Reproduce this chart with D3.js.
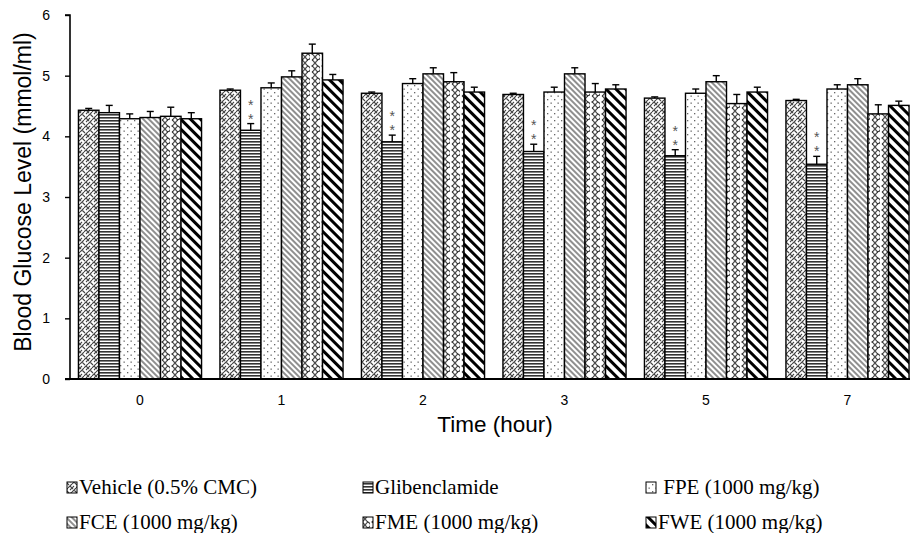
<!DOCTYPE html>
<html><head><meta charset="utf-8">
<script src="https://cdn.jsdelivr.net/npm/d3@7"></script>
<style>body{margin:0;background:#fff}svg{display:block}</style>
</head><body><svg id="c" width="910" height="533"></svg>
<script>
const categories = ["0","1","2","3","5","7"];
const series = ["Vehicle (0.5% CMC)","Glibenclamide","FPE (1000 mg/kg)","FCE (1000 mg/kg)","FME (1000 mg/kg)","FWE (1000 mg/kg)"];
const vehicle = [4.43,4.76,4.71,4.69,4.63,4.59];
const glibenclamide = [4.39,4.10,3.91,3.75,3.68,3.54];
const fpe = [4.29,4.80,4.87,4.73,4.71,4.78];
const fce = [4.31,4.98,5.03,5.03,4.90,4.85];
const fme = [4.33,5.37,4.90,4.73,4.54,4.37];
const fwe = [4.29,4.93,4.73,4.78,4.73,4.51];
const vehicleErr = [0.03,0.02,0.02,0.02,0.02,0.02];
const glibenclamideErr = [0.12,0.11,0.11,0.12,0.10,0.13];
const fpeErr = [0.08,0.08,0.08,0.08,0.07,0.07];
const fceErr = [0.10,0.10,0.10,0.10,0.10,0.10];
const fmeErr = [0.15,0.15,0.15,0.14,0.15,0.15];
const fweErr = [0.10,0.09,0.08,0.07,0.08,0.07];
const significant = [false,true,true,true,true,true]; // ** on Glibenclamide
const yTicks = [0,1,2,3,4,5,6];

const values = [vehicle,glibenclamide,fpe,fce,fme,fwe];
const errs = [vehicleErr,glibenclamideErr,fpeErr,fceErr,fmeErr,fweErr];

const svg = d3.select("#c");
const defs = svg.append("defs");
const pid = ["pVeh","pGli","pFpe","pFce","pFme","pFwe"];

// Vehicle: woven diagonal
let p = defs.append("pattern").attr("id","pVeh").attr("patternUnits","userSpaceOnUse").attr("width",8).attr("height",8);
p.append("rect").attr("width",8).attr("height",8).attr("fill","#fff");
p.append("path").attr("d","M0,4 L4,0 M4,8 L8,4 M0,8 L2,6 M6,2 L8,0 M2,2 L5,5 M6,6 L8,8 M0,0 L1,1")
  .attr("stroke","#444").attr("stroke-width",1.1).attr("fill","none");
// Glibenclamide: horizontal lines
p = defs.append("pattern").attr("id","pGli").attr("patternUnits","userSpaceOnUse").attr("width",4).attr("height",3);
p.append("rect").attr("width",4).attr("height",3).attr("fill","#fff");
p.append("rect").attr("y",0).attr("width",4).attr("height",1.6).attr("fill","#333");
// FPE: dots
p = defs.append("pattern").attr("id","pFpe").attr("patternUnits","userSpaceOnUse").attr("width",7).attr("height",7);
p.append("rect").attr("width",7).attr("height",7).attr("fill","#fff");
p.append("rect").attr("x",1).attr("y",1).attr("width",1.3).attr("height",1.3).attr("fill","#666");
p.append("rect").attr("x",4.5).attr("y",4.5).attr("width",1.3).attr("height",1.3).attr("fill","#666");
// FCE: thin backslash lines
p = defs.append("pattern").attr("id","pFce").attr("patternUnits","userSpaceOnUse").attr("width",4).attr("height",4).attr("patternTransform","rotate(-45)");
p.append("rect").attr("width",4).attr("height",4).attr("fill","#fff");
p.append("line").attr("x1",1).attr("x2",1).attr("y1",0).attr("y2",4).attr("stroke","#333").attr("stroke-width",1.1);
// FME: scalloped wave
p = defs.append("pattern").attr("id","pFme").attr("patternUnits","userSpaceOnUse").attr("width",10).attr("height",12);
p.append("rect").attr("width",10).attr("height",12).attr("fill","#fff");
p.append("path").attr("d","M2,0 Q7,3 2,6 Q7,9 2,12 M8,0 Q3,3 8,6 Q13,9 8,12 M8,6 Q3,9 8,12").attr("stroke","#333").attr("stroke-width",1.1).attr("fill","none");
// FWE: thick backslash stripes
p = defs.append("pattern").attr("id","pFwe").attr("patternUnits","userSpaceOnUse").attr("width",7).attr("height",7).attr("patternTransform","rotate(-45)");
p.append("rect").attr("width",7).attr("height",7).attr("fill","#fff");
p.append("rect").attr("x",0).attr("y",0).attr("width",3).attr("height",7).attr("fill","#000");

const x0 = 69.25, plotTop = 15, plotBottom = 379;
const x = d3.scaleBand().domain(categories).range([x0, x0 + 141.5*6]).paddingInner(0.13).paddingOuter(0.065);
const xs = d3.scaleBand().domain(d3.range(series.length)).range([0, x.bandwidth()]);
const y = d3.scaleLinear().domain([0,6]).range([plotBottom, plotTop]);

const g = svg.append("g");
categories.forEach((c,ci)=>{
  values.forEach((arr,si)=>{
    const bx = x(c) + xs(si), bw = xs.bandwidth();
    const v = arr[ci], e = errs[si][ci];
    g.append("rect").attr("x",bx).attr("y",y(v)).attr("width",bw).attr("height",y(0)-y(v))
      .attr("fill",`url(#${pid[si]})`).attr("stroke","#000").attr("stroke-width",1.4);
    const cx = bx + bw/2;
    g.append("line").attr("x1",cx).attr("x2",cx).attr("y1",y(v)).attr("y2",y(v+e)).attr("stroke","#000").attr("stroke-width",1.4);
    g.append("line").attr("x1",cx-3.5).attr("x2",cx+3.5).attr("y1",y(v+e)).attr("y2",y(v+e)).attr("stroke","#000").attr("stroke-width",1.4);
    if (si===1 && significant[ci]) {
      g.append("text").attr("x",cx).attr("y",y(v+e)-27)
        .style("writing-mode","vertical-rl").style("text-orientation","upright")
        .attr("letter-spacing",-2)
        .attr("font-family","Liberation Sans, Arial, sans-serif").attr("font-size",14).attr("fill","#555").text("**");
    }
  });
});

// axes
const yAxis = d3.axisLeft(y).tickValues(yTicks).tickFormat(d3.format("d")).tickSize(5).tickPadding(15);
const ya = svg.append("g").attr("transform","translate(70,0)").call(yAxis);
ya.select(".domain").attr("stroke","#000").attr("stroke-width",1.6).attr("d",`M-5,${plotTop}H0V${plotBottom}`);
ya.selectAll(".tick line").attr("stroke","#000").attr("stroke-width",1.4);
ya.selectAll("text").attr("font-family","Liberation Sans, Arial, sans-serif").attr("font-size",14).attr("fill","#000");

const xAxis = d3.axisBottom(x).tickSize(0).tickPadding(16);
const xa = svg.append("g").attr("transform",`translate(0,${plotBottom})`).call(xAxis);
xa.select(".domain").attr("stroke","#000").attr("stroke-width",1.8).attr("d","M65,0H910");
xa.selectAll("text").attr("font-family","Liberation Sans, Arial, sans-serif").attr("font-size",14).attr("fill","#000");

svg.append("text").attr("x",495).attr("y",432).attr("text-anchor","middle")
  .attr("font-family","Liberation Sans, Arial, sans-serif").attr("font-size",22.5).text("Time (hour)");
svg.append("text").attr("transform","translate(31,192) rotate(-90)").attr("text-anchor","middle")
  .attr("font-family","Liberation Sans, Arial, sans-serif").attr("font-size",23).text("Blood Glucose Level (mmol/ml)");

// legend
const legX = [67,363,646], legY = [482,517];
series.forEach((s,i)=>{
  const lx = legX[i%3], ly = legY[Math.floor(i/3)];
  svg.append("rect").attr("x",lx).attr("y",ly).attr("width",10).attr("height",11)
    .attr("fill",`url(#${pid[i]})`).attr("stroke","#000").attr("stroke-width",1);
  svg.append("text").attr("x",lx+12).attr("y",ly+11.5).attr("font-family","Liberation Serif, Times New Roman, serif")
    .attr("font-size",21).text(i===2 ? "\u00a0"+s : s);
});
</script></body></html>
